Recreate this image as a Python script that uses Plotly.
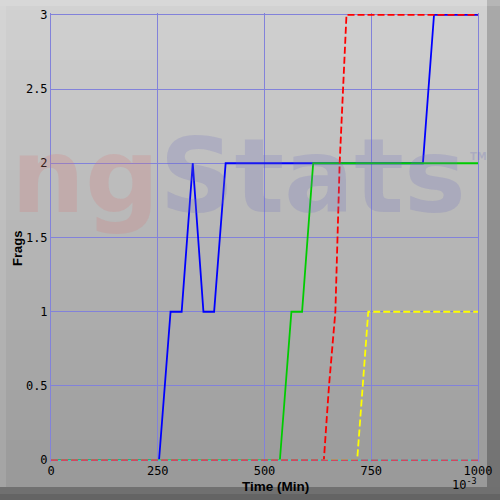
import plotly.graph_objects as go

# Frags over time, one list pair per player
blue_x = [0, 253, 280, 306, 332, 357, 382, 409, 871, 897, 1000]
blue_y = [0, 0, 1, 1, 2, 1, 1, 2, 2, 3, 3]
green_x = [0, 536, 563, 588, 614, 1000]
green_y = [0, 0, 1, 1, 2, 2]
yellow_x = [0, 717, 743, 1000]
yellow_y = [0, 0, 1, 1]
red_x = [0, 639, 651, 666, 676, 692, 1000]
red_y = [0, 0, 0.5, 1, 2, 3, 3]
cyan_x = [0, 1000]
cyan_y = [0, 0]
pink_x = [0, 1000]
pink_y = [0, 0]

x_ticks = [0, 250, 500, 750, 1000]
y_ticks = [0, 0.5, 1, 1.5, 2, 2.5, 3]
y_labels = ["0", "0.5", "1", "1.5", "2", "2.5", "3"]

# plot box in pixels
L, T, W, H = 51, 13, 427, 449


def px(x):
    return (x - L) / W


def py(y):
    return (T + H - y) / H


def rect(x0, y0, x1, y1, c):
    return dict(type="rect", xref="paper", yref="paper", layer="below",
                x0=px(x0), x1=px(x1), y0=py(y1), y1=py(y0),
                fillcolor=c, line_width=0)


# background panel: vertical grey gradient + bevel
shapes = []
n = 50
for i in range(n):
    y0 = 500 * i / n
    y1 = 500 * (i + 1) / n + 0.5
    g = int(210 - 58 * (i / (n - 1)))
    shapes.append(rect(0, y0, 500, y1, "rgb(%d,%d,%d)" % (g, g, g)))
    shapes.append(rect(487, y0, 500, y1, "rgb(%d,%d,%d)" % (g - 40, g - 40, g - 40)))
shapes.append(rect(0, 0, 500, 6, "rgba(255,255,255,0.15)"))
shapes.append(rect(0, 6, 6, 500, "rgba(255,255,255,0.1)"))
shapes.append(rect(0, 487, 500, 500, "rgb(112,112,112)"))
shapes.append(rect(0, 494, 500, 500, "rgb(100,100,100)"))

grid = "#8282da"

fig = go.Figure()
fig.add_trace(go.Scatter(x=blue_x, y=blue_y, mode="lines",
                         line=dict(color="#0000ff", width=1.8)))
fig.add_trace(go.Scatter(x=green_x, y=green_y, mode="lines",
                         line=dict(color="#00cc00", width=1.8)))
fig.add_trace(go.Scatter(x=yellow_x, y=yellow_y, mode="lines",
                         line=dict(color="#ffff00", width=1.8, dash="7px,3px")))
fig.add_trace(go.Scatter(x=red_x, y=red_y, mode="lines",
                         line=dict(color="#ff0000", width=1.8, dash="7px,3px")))
fig.add_trace(go.Scatter(x=cyan_x, y=cyan_y, mode="lines",
                         line=dict(color="#40c8c0", width=1.5)))
fig.add_trace(go.Scatter(x=pink_x, y=pink_y, mode="lines",
                         line=dict(color="#d04860", width=1.5, dash="7px,3px")))

fig.update_layout(
    width=500, height=500,
    margin=dict(l=L, r=500 - L - W, t=T, b=500 - T - H),
    paper_bgcolor="rgb(180,180,180)",
    plot_bgcolor="rgba(0,0,0,0)",
    showlegend=False,
    shapes=shapes,
    font=dict(family="DejaVu Sans Mono", size=12, color="black"),
)
fig.update_xaxes(range=[0, 1000], tickvals=x_ticks, ticks="", automargin=False,
                 showgrid=True, gridcolor=grid, gridwidth=1,
                 zeroline=False, showline=False)
fig.update_yaxes(range=[-0.012, 3.012], tickvals=y_ticks, ticktext=y_labels,
                 ticks="", automargin=False,
                 showgrid=True, gridcolor=grid, gridwidth=1,
                 zeroline=False, showline=True, linecolor=grid,
                 linewidth=1, mirror=True)

# watermark
fig.add_annotation(xref="paper", yref="paper", x=px(238), y=py(176),
                   xanchor="center", yanchor="middle", showarrow=False,
                   text="<span style='color:rgba(215,120,120,0.24)'>ng</span>"
                        "<span style='color:rgba(110,110,190,0.22)'>Stats</span>",
                   font=dict(family="DejaVu Sans", size=104, weight="bold"))
fig.add_annotation(xref="paper", yref="paper", x=px(478), y=py(157),
                   xanchor="center", yanchor="middle", showarrow=False,
                   text="TM", font=dict(family="DejaVu Sans", size=10,
                                        color="rgba(110,110,190,0.25)", weight="bold"))

# axis titles
fig.add_annotation(xref="paper", yref="paper", x=px(17), y=py(249),
                   xanchor="center", yanchor="middle", showarrow=False,
                   textangle=-90, text="Frags",
                   font=dict(family="Liberation Sans", size=13, weight="bold"))
fig.add_annotation(xref="paper", yref="paper", x=px(275), y=py(486),
                   xanchor="center", yanchor="middle", showarrow=False,
                   text="Time (Min)",
                   font=dict(family="Liberation Sans", size=13.5, weight="bold"))
fig.add_annotation(xref="paper", yref="paper", x=px(464), y=py(484),
                   xanchor="center", yanchor="middle", showarrow=False,
                   text="10<sup>-3</sup>",
                   font=dict(family="DejaVu Sans Mono", size=12))

# page body has a default 8px margin; drop it so the figure sits at 0,0
fig.write_html("out.html", config={"displayModeBar": False},
               post_script="document.body.style.margin='0px';")
